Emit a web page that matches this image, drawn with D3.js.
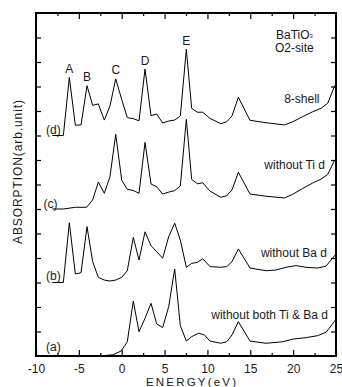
<!DOCTYPE html>
<html>
<head>
<meta charset="utf-8">
<script src="https://cdn.jsdelivr.net/npm/d3@7"></script>
<style>
  body { margin: 0; background: #fff; }
  text { font-family: "Liberation Sans", Arial, sans-serif; fill: #1a1a1a; }
</style>
</head>
<body>
<div id="chart"></div>
<script>
// [energy (eV), absorption], before the vertical stacking offset
const curveA = [[-2.5,0],[-1.05,0.05],[-0.08,0.2],[0.65,0.58],[1.35,2.24],[2.02,0.99],[2.72,1.54],[3.42,2.15],
  [4.08,1.31],[4.78,1.16],[5.48,2.01],[6.18,3.55],[6.84,1.24],[7.54,0.61],[8.16,0.79],[8.98,0.93],[9.64,0.86],
  [10.3,0.61],[11.55,0.52],[12.25,0.58],[12.87,0.86],[13.61,1.4],[14.97,0.61],[16.84,0.52],[18.78,0.58],
  [19.95,0.69],[21.5,0.75],[22.86,0.83],[23.84,0.97],[24.8,1.4],[25,1.5]];
const curveB = [[-8.1,0],[-6.81,0],[-6.11,2.44],[-5.41,0.35],[-4.75,0.4],[-4.05,2.28],[-3.39,0.85],[-2.73,0.21],
  [-2.03,0.1],[-1.37,0.06],[-0.7,0.1],[0,0.21],[0.65,0.48],[1.35,1.84],[2.02,0.92],[2.72,2.07],[3.42,1.5],
  [4.08,1.26],[4.78,0.99],[5.48,1.87],[6.18,2.42],[6.84,1.73],[7.54,0.62],[8.16,0.78],[8.82,0.82],[9.45,0.97],
  [10.3,0.65],[11.55,0.62],[12.25,0.65],[12.87,0.85],[13.61,1.37],[14.97,0.59],[16.84,0.48],[18,0.51],
  [19.17,0.62],[20.33,0.69],[21.5,0.62],[22.86,0.59],[23.84,0.67],[24.8,1.08],[25,1.15]];
const curveC = [[-8.1,0],[-6.81,0],[-5.41,0.07],[-4.09,0.07],[-3.39,0.37],[-2.73,1.1],[-2.03,0.64],[-1.37,1.32],
  [-0.7,3.05],[0,1.18],[0.65,0.8],[1.32,0.76],[2.02,0.64],[2.72,2.72],[3.42,1.02],[4.08,0.91],[4.78,0.61],
  [5.48,0.69],[6.18,0.75],[6.84,0.94],[7.54,3.66],[8.16,1.21],[8.82,1.03],[9.45,1.07],[10.3,0.73],[11.55,0.48],
  [12.25,0.54],[12.87,0.78],[13.61,1.5],[14.97,0.61],[16.84,0.52],[18.97,0.45],[19.95,0.6],[21.12,0.84],
  [22.28,1.06],[23.25,1.22],[24.03,1.41],[24.8,1.96],[25,2.05]];
const curveD = [[-8.1,0],[-6.81,0],[-6.11,2.37],[-5.41,0.42],[-4.75,0.43],[-4.05,2.03],[-3.39,1.23],[-2.73,1.29],
  [-2.03,0.63],[-1.37,1.2],[-0.7,2.31],[0,1.47],[0.65,0.73],[1.32,0.69],[2.02,0.6],[2.72,2.71],[3.42,0.81],
  [4.08,0.88],[4.78,0.51],[5.48,0.59],[6.18,0.63],[6.84,0.8],[7.54,3.52],[8.16,1.11],[8.82,0.95],[9.45,0.95],
  [10.3,0.7],[11.55,0.48],[12.25,0.56],[12.87,0.8],[13.61,1.56],[14.97,0.62],[16.84,0.52],[18.97,0.43],
  [19.95,0.56],[21.12,0.77],[22.28,0.97],[23.25,1.11],[24.03,1.31],[24.8,1.99],[25,2.1]];

const seriesData = [curveA, curveB, curveC, curveD];
const seriesTags = ["(a)", "(b)", "(c)", "(d)"];
const seriesTitles = ["without both Ti & Ba d", "without Ba d", "without Ti d", "8-shell"];
const seriesOffsets = [0, 3, 6, 9];

const peakNames = ["A", "B", "C", "D", "E"];
const peakEnergies = [-6.11, -4.05, -0.7, 2.72, 7.54];

const xMajorTicks = [-10, -5, 0, 5, 10, 15, 20, 25];
const xMinorTicks = [-7.5, -2.5, 2.5, 7.5, 12.5, 17.5, 22.5];
const yTicks = d3.range(1, 14);

const width = 342, height = 387;
const margin = { top: 13, right: 6, bottom: 31, left: 36 };
const innerW = width - margin.left - margin.right;
const innerH = height - margin.top - margin.bottom;

const svg = d3.select("#chart").append("svg")
  .attr("width", width)
  .attr("height", height);

const g = svg.append("g")
  .attr("transform", `translate(${margin.left},${margin.top})`);

const x = d3.scaleLinear().domain([-10, 25]).range([0, innerW]);
const y = d3.scaleLinear().domain([0, 14]).range([innerH, 0]);

// ticks (all pointing inward)
function styleAxis(sel) {
  sel.select(".domain").remove();
  sel.selectAll(".tick line").attr("stroke", "#000").attr("stroke-width", 1.2);
}

g.append("g")
  .attr("transform", `translate(0,${innerH})`)
  .call(d3.axisBottom(x).tickValues(xMajorTicks).tickSizeInner(-6).tickSizeOuter(0)
    .tickPadding(8.5).tickFormat(d => String(d)))
  .call(styleAxis)
  .call(s => s.selectAll("text").attr("font-size", 12).attr("fill", "#1a1a1a")
    .attr("font-family", '"Liberation Sans", Arial, sans-serif'));

g.append("g")
  .attr("transform", `translate(0,${innerH})`)
  .call(d3.axisBottom(x).tickValues(xMinorTicks).tickSizeInner(-3).tickSizeOuter(0).tickFormat(""))
  .call(styleAxis);

g.append("g")
  .call(d3.axisTop(x).tickValues(xMajorTicks).tickSizeInner(-6).tickSizeOuter(0).tickFormat(""))
  .call(styleAxis);

g.append("g")
  .call(d3.axisTop(x).tickValues(xMinorTicks).tickSizeInner(-3).tickSizeOuter(0).tickFormat(""))
  .call(styleAxis);

g.append("g")
  .call(d3.axisLeft(y).tickValues(yTicks).tickSizeInner(-5).tickSizeOuter(0).tickFormat(""))
  .call(styleAxis);

g.append("g")
  .attr("transform", `translate(${innerW},0)`)
  .call(d3.axisRight(y).tickValues(yTicks).tickSizeInner(-5).tickSizeOuter(0).tickFormat(""))
  .call(styleAxis);

// spectra
const line = d3.line()
  .x(d => x(d[0]))
  .y(d => y(d[1]));

g.selectAll(".spectrum")
  .data(seriesData)
  .enter()
  .append("path")
  .attr("class", "spectrum")
  .attr("d", (d, i) => line(d.map(p => [p[0], p[1] + seriesOffsets[i]])))
  .attr("fill", "none")
  .attr("stroke", "#000")
  .attr("stroke-width", 1)
  .attr("stroke-linejoin", "miter");

// frame
g.append("rect")
  .attr("width", innerW)
  .attr("height", innerH)
  .attr("fill", "none")
  .attr("stroke", "#000")
  .attr("stroke-width", 2);

// peak letters over the top spectrum
const topCurve = seriesData[3];
peakNames.forEach((name, i) => {
  const pt = topCurve.find(p => p[0] === peakEnergies[i]);
  g.append("text")
    .attr("x", x(peakEnergies[i]))
    .attr("y", y(pt[1] + seriesOffsets[3]) - 4.5)
    .attr("text-anchor", "middle")
    .attr("font-size", 12)
    .text(name);
});

// curve tags and titles (pixel spots)
const tagSpots = [[46, 350.5], [46, 280], [43.5, 208], [46, 133.5]];
const titleSpots = [[328, 319], [327, 257], [325, 169], [319.5, 103]];

seriesTags.forEach((t, i) => {
  svg.append("text")
    .attr("x", tagSpots[i][0])
    .attr("y", tagSpots[i][1])
    .attr("font-size", 12)
    .text(t);
  svg.append("text")
    .attr("x", titleSpots[i][0])
    .attr("y", titleSpots[i][1])
    .attr("text-anchor", "end")
    .attr("font-size", 12)
    .text(seriesTitles[i]);
});

// compound label
const comp = svg.append("text")
  .attr("x", 276)
  .attr("y", 38.5)
  .attr("font-size", 12);
comp.append("tspan").text("BaTiO");
comp.append("tspan").attr("font-size", 6).attr("dy", -1).text("3");

svg.append("text")
  .attr("x", 275)
  .attr("y", 52)
  .attr("font-size", 12)
  .text("O2-site");

// axis titles
svg.append("text")
  .attr("x", 146)
  .attr("y", 386)
  .attr("font-size", 11.5)
  .attr("textLength", 90)
  .attr("lengthAdjust", "spacing")
  .text("ENERGY(eV)");

svg.append("text")
  .attr("transform", "translate(22,244) rotate(-90)")
  .attr("font-size", 12)
  .attr("textLength", 144)
  .attr("lengthAdjust", "spacing")
  .text("ABSORPTION(arb.unit)");
</script>
</body>
</html>
